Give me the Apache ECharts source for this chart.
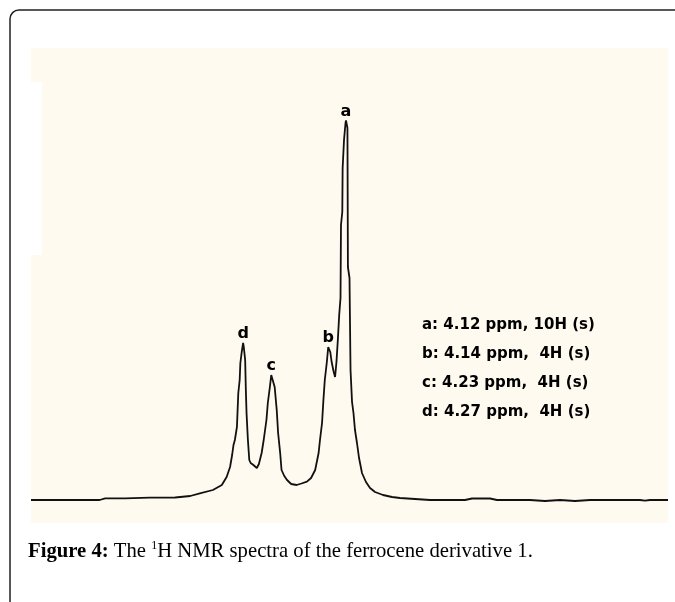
<!DOCTYPE html>
<html>
<head>
<meta charset="utf-8">
<script src="https://cdn.jsdelivr.net/npm/echarts@6/dist/echarts.min.js"></script>
<style>
    html, body { margin: 0; padding: 0; background: #fff; }
    #chart { width: 675px; height: 602px; }
</style>
</head>
<body>
<div id="chart"></div>
<script>
// spectrum trace, chemical shift (ppm) and intensity (arbitrary units)
const ppm = [
    4.580, 4.480, 4.472, 4.443, 4.407, 4.370, 4.348, 4.334, 4.315, 4.302,
    4.295, 4.290, 4.287, 4.285, 4.283, 4.280, 4.278, 4.276, 4.275, 4.273,
    4.271, 4.270, 4.268, 4.267, 4.266, 4.264, 4.262, 4.260, 4.256, 4.251,
    4.248, 4.244, 4.241, 4.237, 4.235, 4.232, 4.230, 4.228, 4.225, 4.222,
    4.220, 4.217, 4.215, 4.211, 4.207, 4.201, 4.193, 4.186, 4.178, 4.172,
    4.166, 4.161, 4.159, 4.156, 4.154, 4.152, 4.149, 4.147, 4.144, 4.142,
    4.139, 4.137, 4.135, 4.133, 4.131, 4.1291, 4.1284, 4.1265, 4.1260, 4.1240,
    4.1218, 4.1211, 4.1190, 4.1183, 4.1160, 4.1145, 4.1123, 4.1102, 4.1080, 4.1051,
    4.1021, 4.0978, 4.0920, 4.0861, 4.0788, 4.0672, 4.0541, 4.0424, 4.0206, 3.9987,
    3.9477, 3.9375, 3.9113, 3.9011, 3.8530, 3.8312, 3.8093, 3.7875, 3.7656, 3.6928,
    3.6855, 3.6782, 3.6520
];
const intensity = [
    0, 0, 1.7, 1.7, 2.3, 2.5, 4, 6.7, 10, 15,
    23, 33, 45, 55, 60, 73, 107, 120, 137, 148,
    157, 153, 140, 110, 87, 60, 40, 37, 35, 32,
    36, 47, 60, 80, 97, 113, 125, 124, 113, 90,
    67, 47, 30, 24, 20, 16, 15, 16.5, 18.3, 22,
    30, 47, 60, 77, 100, 120, 138, 153, 148, 138,
    128, 123, 138, 160, 185, 202, 275, 288, 332, 360,
    377, 379.5, 372, 233, 222, 130, 98, 87, 70, 57,
    42, 27, 18, 12, 8, 5, 3, 2, 1, 0,
    0, 1.5, 1.5, 0, 0, -1, 0, -1, 0, 0,
    -0.7, 0, 0
];

// labelled peaks on the trace
const peakNames = ['a', 'b', 'c', 'd'];
const peakPpm = [4.1211, 4.147, 4.230, 4.271];
const peakHeight = [379.5, 153, 125, 157];

// assignment table
const shiftValues = [4.12, 4.14, 4.23, 4.27];
const shiftProtons = [10, 4, 4, 4];

const captionBold = 'Figure 4:';
const captionText = 'The ';
const captionRest = 'H NMR spectra of the ferrocene derivative 1.';

const chart = echarts.init(document.getElementById('chart'), null, { renderer: 'canvas' });

const lineData = ppm.map((p, i) => [p, intensity[i]]);
const peakData = peakNames.map((n, i) => ({ name: n, value: [peakPpm[i], peakHeight[i]] }));

const tableFont = '"DejaVu Sans", sans-serif';
const serif = '"Liberation Serif", serif';
const tableText = peakNames.map((n, i) => ({
    type: 'text',
    left: 422,
    top: 318 + i * 29,
    z: 10,
    style: {
        text: `${n}: ${shiftValues[i].toFixed(2)} ppm, ${shiftProtons[i] < 10 ? ' ' : ''}${shiftProtons[i]}H (s)`,
        fontFamily: tableFont,
        fontWeight: 'bold',
        fontSize: 15,
        fill: '#000'
    }
}));

chart.setOption({
    animation: false,
    backgroundColor: '#ffffff',
    grid: { left: 31, right: 7, top: 100, bottom: 82 },
    xAxis: {
        type: 'value',
        inverse: true,
        min: 3.652,
        max: 4.58,
        show: false
    },
    yAxis: {
        type: 'value',
        min: -20,
        max: 400,
        show: false
    },
    graphic: [
        {
            type: 'rect',
            z: -10,
            shape: { x: 10, y: 10, width: 720, height: 700, r: 9 },
            style: { fill: '#ffffff', stroke: '#222', lineWidth: 1.5 }
        },
        {
            type: 'rect',
            z: -9,
            shape: { x: 31, y: 48, width: 637, height: 475 },
            style: { fill: '#fffaf0' }
        },
        {
            type: 'rect',
            z: -8,
            shape: { x: 31, y: 82, width: 11, height: 173 },
            style: { fill: '#ffffff' }
        },
        ...tableText,
        {
            type: 'text',
            left: 28,
            top: 540,
            z: 10,
            style: {
                text: `{b|${captionBold}} {n|${captionText}}{s|1}{n|${captionRest}}`,
                rich: {
                    b: { fontFamily: serif, fontWeight: 'bold', fontSize: 20.7, lineHeight: 24, fill: '#000' },
                    n: { fontFamily: serif, fontSize: 20.7, lineHeight: 24, fill: '#000' },
                    s: { fontFamily: serif, fontSize: 12, lineHeight: 14, verticalAlign: 'top', fill: '#000' }
                },
                fontFamily: serif,
                fontSize: 20.7
            }
        }
    ],
    series: [
        {
            type: 'line',
            data: lineData,
            showSymbol: false,
            smooth: false,
            lineStyle: { color: '#111', width: 1.8 },
            z: 3
        },
        {
            type: 'scatter',
            data: peakData,
            symbolSize: 0,
            z: 4,
            itemStyle: { opacity: 1, color: '#000' },
            label: {
                show: true,
                position: 'top',
                distance: 1,
                formatter: '{b}',
                fontFamily: tableFont,
                fontWeight: 'bold',
                fontSize: 16,
                color: '#000',
                opacity: 1,
                textBorderWidth: 0
            }
        }
    ]
});
</script>
</body>
</html>
